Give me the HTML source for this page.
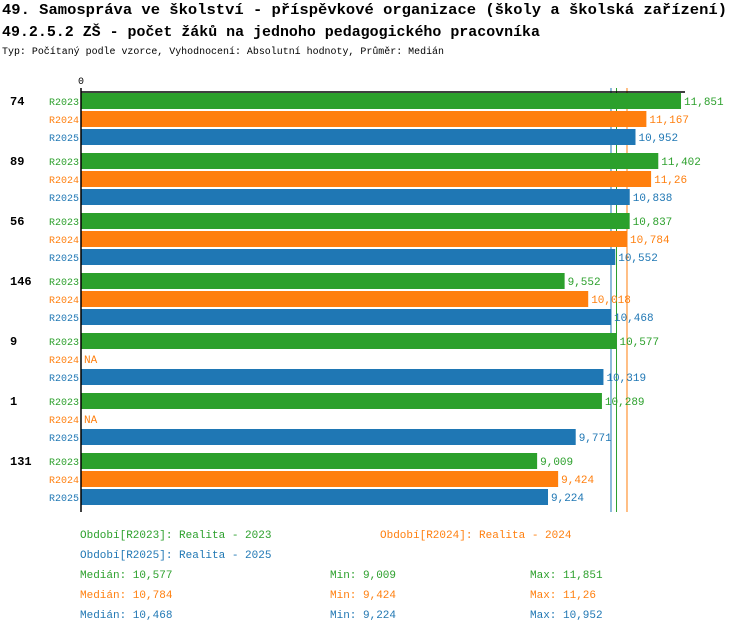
<!DOCTYPE html>
<html><head><meta charset="utf-8"><style>
body{margin:0;background:#fff;width:750px;height:632px;overflow:hidden;font-family:"Liberation Mono",monospace}
svg text{font-family:"Liberation Mono",monospace}
</style></head><body>
<svg id="c" width="750" height="632" xmlns="http://www.w3.org/2000/svg">
<text x="2" y="14" font-size="15" font-weight="bold" fill="#000" textLength="725" lengthAdjust="spacingAndGlyphs">49. Samospráva ve školství - příspěvkové organizace (školy a školská zařízení)</text>
<text x="2" y="36" font-size="15" font-weight="bold" fill="#000" textLength="538" lengthAdjust="spacingAndGlyphs">49.2.5.2 ZŠ - počet žáků na jednoho pedagogického pracovníka</text>
<text x="2" y="54" font-size="10" fill="#000" textLength="442" lengthAdjust="spacingAndGlyphs">Typ: Počítaný podle vzorce, Vyhodnocení: Absolutní hodnoty, Průměr: Medián</text>
<text x="81" y="84" font-size="10" text-anchor="middle" fill="#000">0</text>
<g id="medlines"></g>
<g id="bars"></g>
<line x1="81" y1="92" x2="685" y2="92" stroke="#000" stroke-width="1.5"/>
<line x1="81" y1="88" x2="81" y2="512" stroke="#000" stroke-width="1.5"/>
<g id="legend" font-size="11"></g>
</svg>
<script>
const categories=["74","89","56","146","9","1","131"];
const series=["R2023","R2024","R2025"];
const colors=["#2ca02c","#ff7f0e","#1f77b4"];
const v2023=[11.851,11.402,10.837,9.552,10.577,10.289,9.009];
const v2024=[11.167,11.26,10.784,10.018,null,null,9.424];
const v2025=[10.952,10.838,10.552,10.468,10.319,9.771,9.224];
const labels2024=["11,167","11,26","10,784","10,018","NA","NA","9,424"];
const medians=[10.577,10.784,10.468];
const medianTxt=["10,577","10,784","10,468"];
const minTxt=["9,009","9,424","9,224"];
const maxTxt=["11,851","11,26","10,952"];
const NS="http://www.w3.org/2000/svg";
const x=v=>81+v*50.63;
const fmt=v=>String(v).replace('.',',');
const vals=[v2023,v2024,v2025];
const bars=document.getElementById('bars');
function mk(tag,attrs,parent,text){const e=document.createElementNS(NS,tag);for(const k in attrs)e.setAttribute(k,attrs[k]);if(text!==undefined)e.textContent=text;parent.appendChild(e);return e;}
categories.forEach((c,i)=>{
  const gy=101+i*60;
  const t=mk('text',{x:10,y:gy+4,'font-size':12,'font-weight':'bold',fill:'#000'},bars,c);
  
  
  series.forEach((s,j)=>{
    const cy=gy+j*18;
    const l=mk('text',{x:79,y:cy+4,'font-size':10,'text-anchor':'end',fill:colors[j]},bars,s);
    
    
    const v=vals[j][i];
    if(v!==null){
      const r=mk('rect',{x:81,y:cy-8,width:x(v)-81,height:16,fill:colors[j]},bars);
      
      
    }
    const txt=j===1?labels2024[i]:fmt(v);
    const vl=mk('text',{x:(v===null?81:x(v))+3,y:cy+4,'font-size':11,fill:colors[j]},bars,txt);
    
    
  });
});
const ml=document.getElementById('medlines');
[0,1,2].forEach(j=>{
  const ln=mk('line',{x1:x(medians[j]),x2:x(medians[j]),y1:88,y2:512,stroke:colors[j],'stroke-width':1},ml);
  
  
});
const lg=document.getElementById('legend');
const names=["Období[R2023]: Realita - 2023","Období[R2024]: Realita - 2024","Období[R2025]: Realita - 2025"];
const pos=[[80,538],[380,538],[80,558]];
names.forEach((n,j)=>{
  const t=mk('text',{x:pos[j][0],y:pos[j][1],fill:colors[j]},lg,n);
  
  
});
series.forEach((s,j)=>{
  const y=578+j*20;
  const a=mk('text',{x:80,y:y,fill:colors[j]},lg,'Medián: '+medianTxt[j]);
  
  
  const b=mk('text',{x:330,y:y,fill:colors[j]},lg,'Min: '+minTxt[j]);
  
  
  const c=mk('text',{x:530,y:y,fill:colors[j]},lg,'Max: '+maxTxt[j]);
  
  
});
</script>
</body></html>
